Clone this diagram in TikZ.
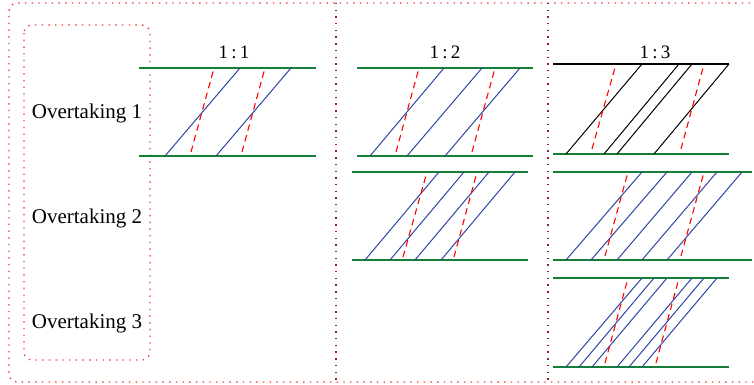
\documentclass[tikz,border=0pt]{standalone}
\usepackage{fontspec}
\setmainfont{Liberation Serif}
\definecolor{trackgreen}{RGB}{20,125,55}
\definecolor{vehblue}{RGB}{45,70,165}
\definecolor{dotred}{RGB}{235,60,60}
\definecolor{divred}{RGB}{150,30,30}
\tikzset{
  track/.style={draw=trackgreen, line width=1.4pt},
  trackblack/.style={draw=black, line width=1.4pt},
  veh/.style={draw=vehblue, line width=1pt},
  vehblack/.style={draw=black, line width=1pt},
  fast/.style={draw=red, line width=1.1pt, dash pattern=on 6.5pt off 4.5pt},
  dotbox/.style={draw=dotred, line width=1.4pt, dash pattern=on 1.4pt off 5.3pt, rounded corners=8pt},
  divider/.style={draw=divred, line width=1.4pt, dash pattern=on 1.4pt off 5.3pt},
  lab/.style={font=\fontsize{21}{24}\selectfont, inner sep=0pt},
  ttl/.style={font=\fontsize{19}{22}\selectfont, inner sep=0pt}
}
\begin{document}
\begin{tikzpicture}[x=1pt,y=-1pt]
\useasboundingbox (0,0) rectangle (754,385);
% frames
\draw[dotbox] (770,3) -- (9,3) -- (9,382) -- (770,382);
\draw[dotbox] (24,25) rectangle (150,360);
\draw[divider] (336,3) -- (336,382);
\draw[divider] (548,3) -- (548,382);
% labels
\node[lab] (o1) at (87,113) {Overtaking 1};
\node[lab] (o2) at (87,218) {Overtaking 2};
\node[lab] (o3) at (87,323) {Overtaking 3};
\node[ttl] (t1) at (234,52) {1\,:\,1};
\node[ttl] (t2) at (445,52) {1\,:\,2};
\node[ttl] (t3) at (655,52) {1\,:\,3};
% 1:1
\draw[track] (139,68) -- (316,68);
\draw[track] (139,156) -- (316,156);
\foreach \b/\t in {165/240,216/291} \draw[veh] (\b,156) -- (\t,68);
\foreach \b/\t in {191/214,242/265} \draw[fast] (\b,152) -- (\t,68);
% 1:2 first
\draw[track] (357,68) -- (533,68);
\draw[track] (357,156) -- (533,156);
\foreach \b/\t in {370/444,407/482,445/520} \draw[veh] (\b,156) -- (\t,68);
\foreach \b/\t in {396/419,472/495} \draw[fast] (\b,152) -- (\t,68);
% 1:2 second
\draw[track] (352,172) -- (528,172);
\draw[track] (352,260) -- (528,260);
\foreach \b/\t in {365/439,390/464,415/489,441/515} \draw[veh] (\b,260) -- (\t,172);
\foreach \b/\t in {403/427,454/477} \draw[fast] (\b,257) -- (\t,172);
% 1:3 first
\draw[trackblack] (553,64) -- (729,64);
\draw[track] (553,154) -- (729,154);
\foreach \b/\t in {566/642,604/679,617/692,654/729} \draw[vehblack] (\b,154) -- (\t,64);
\foreach \b/\t in {592/616,681/704} \draw[fast] (\b,149) -- (\t,64);
% 1:3 second
\draw[track] (553,172) -- (752,172);
\draw[track] (553,260) -- (752,260);
\foreach \b/\t in {566/642,591/667,617/692,642/717,667/742} \draw[veh] (\b,260) -- (\t,172);
\foreach \b/\t in {605/628,681/704} \draw[fast] (\b,256) -- (\t,172);
% 1:3 third
\draw[track] (553,278) -- (729,278);
\draw[track] (553,367) -- (729,367);
\foreach \b/\t in {566/642,579/654,592/667,617/692,629/704,642/717} \draw[veh] (\b,367) -- (\t,278);
\foreach \b/\t in {605/628,656/679} \draw[fast] (\b,363) -- (\t,278);
\end{tikzpicture}
\end{document}
